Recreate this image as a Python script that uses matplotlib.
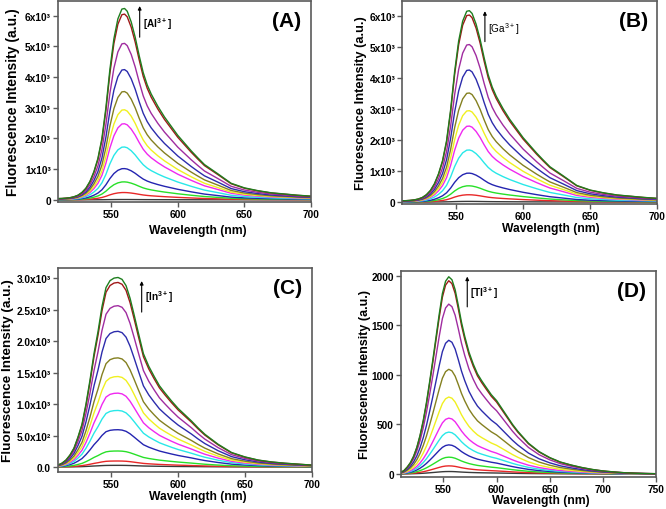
"""Fluorescence titration spectra of the probe with Al3+, Ga3+, In3+ and Tl3+ (panels A-D)."""
import matplotlib
matplotlib.use("Agg")
import matplotlib.pyplot as plt
import numpy as np

plt.rcParams["font.family"] = ["Liberation Sans", "DejaVu Sans"]
plt.rcParams["mathtext.fontset"] = "custom"
plt.rcParams["mathtext.rm"] = "Liberation Sans"
plt.rcParams["mathtext.bf"] = "Liberation Sans:bold"

# one colour per titration step, lowest to highest
COLORS = ["#3a3a3a", "#e82828", "#28e028", "#2424b0", "#28e8e8", "#f028f0",
          "#f0f020", "#848020", "#2c2cac", "#a02ca0", "#a01818", "#1e7e1e"]

# top spectrum of each panel (nm, a.u.)
WL_AB = [510, 513, 516, 519, 522, 525, 528, 531, 534, 537, 540, 543, 546, 549,
         552, 555, 558, 560, 562, 565, 568, 571, 574, 577, 580, 585, 590, 595,
         600, 605, 610, 615, 620, 630, 640, 650, 660, 670, 680, 690, 700]
PROFILE_AB = [40, 45, 55, 70, 100, 150, 240, 380, 600, 920, 1350, 2000, 3000, 4250,
              5250, 5900, 6220, 6240, 6150, 5800, 5300, 4700, 4150, 3750, 3450, 3050,
              2700, 2400, 2100, 1850, 1600, 1370, 1150, 850, 540, 390, 300, 230, 190,
              150, 120]

WL_C = [510, 513, 516, 519, 522, 525, 528, 531, 534, 537, 540, 543, 546, 549,
        552, 555, 558, 561, 564, 567, 570, 574, 578, 582, 586, 590, 595, 600, 605,
        610, 615, 620, 630, 640, 650, 660, 670, 680, 690, 700]
PROFILE_C = [30, 60, 110, 190, 300, 475, 680, 1000, 1380, 1800, 2150, 2550, 2850,
             2960, 3000, 3010, 2980, 2880, 2680, 2420, 2150, 1800, 1600, 1440, 1290,
             1180, 1050, 930, 830, 730, 620, 520, 360, 230, 160, 110, 80, 60, 45, 30]

WL_D = [510, 513, 516, 519, 522, 525, 528, 531, 534, 537, 540, 543, 546, 549,
        552, 555, 558, 561, 564, 567, 570, 574, 578, 582, 586, 590, 595, 600, 605,
        610, 615, 620, 630, 640, 650, 660, 670, 680, 690, 700, 710, 720, 730, 740,
        750]
PROFILE_D = [15, 35, 70, 115, 180, 270, 390, 540, 720, 930, 1150, 1380, 1610, 1820,
             1945, 1990, 1960, 1860, 1700, 1530, 1390, 1230, 1110, 1010, 940, 877,
             800, 740, 660, 580, 500, 430, 310, 225, 165, 120, 90, 65, 45, 30, 20, 12,
             7, 4, 2]

# peak intensity of every spectrum, lowest to highest metal concentration
PEAKS_A = [10, 238, 585, 1018, 1722, 2480, 2935, 3530, 4245, 5100, 6054, 6238]
PEAKS_B = [20, 234, 522, 930, 1675, 2445, 2940, 3510, 4250, 5070, 6020, 6160]
PEAKS_C = [26, 95, 254, 592, 898, 1173, 1437, 1733, 2155, 2562, 2931, 3010]
PEAKS_D = [24, 81, 169, 293, 422, 563, 776, 1056, 1349, 1714, 1950, 1990]

YT_AB = [0, 1000, 2000, 3000, 4000, 5000, 6000]
YL_AB = ["0", "1x10³", "2x10³", "3x10³", "4x10³", "5x10³", "6x10³"]
YT_C = [0, 500, 1000, 1500, 2000, 2500, 3000]
YL_C = ["0.0", "5.0x10²", "1.0x10³", "1.5x10³", "2.0x10³", "2.5x10³", "3.0x10³"]
YT_D = [0, 500, 1000, 1500, 2000]
YL_D = ["0", "500", "1000", "1500", "2000"]

XT_ABC = [550, 600, 650, 700]
XT_D = [550, 600, 650, 700, 750]

LETTERS = ["(A)", "(B)", "(C)", "(D)"]
IONS = [r"$\mathbf{[Al^{3+}]}$", r"[Ga$^{3+}$]", r"$\mathbf{[In^{3+}]}$", r"$\mathbf{[Tl^{3+}]}$"]

SPINE = "#5a5a5a"

panels = [
    # rect, wl, profile, peaks, xlim, ylim, yticks, ylabels, xticks,
    # ylabel x, ylabel size, xlabel x, xlabel y, arrow x, arrow y0, y1, label x, label y
    ([0.087, 0.602, 0.380, 0.394], WL_AB, PROFILE_AB, PEAKS_A, (510, 700), (-70, 6480),
     YT_AB, YL_AB, XT_ABC, -0.151, 10.0, 0.553, -0.112, 0.323, 0.82, 0.975, 0.336, 0.89),
    ([0.604, 0.598, 0.383, 0.398], WL_AB, PROFILE_AB, PEAKS_B, (510, 700), (-64, 6470),
     YT_AB, YL_AB, XT_ABC, -0.140, 9.3, 0.584, -0.088, 0.324, 0.80, 0.95, 0.336, 0.868),
    ([0.087, 0.0725, 0.381, 0.400], WL_C, PROFILE_C, PEAKS_C, (510, 700), (-80, 3160),
     YT_C, YL_C, XT_ABC, -0.174, 9.7, 0.551, -0.086, 0.33, 0.784, 0.936, 0.345, 0.86),
    ([0.602, 0.063, 0.383, 0.404], WL_D, PROFILE_D, PEAKS_D, (510, 750), (-30, 2050),
     YT_D, YL_D, XT_D, -0.117, 9.0, 0.549, -0.082, 0.26, 0.825, 0.972, 0.272, 0.897),
]

fig = plt.figure(figsize=(6.66, 5.10), dpi=100)

for i, (rect, wl, prof, peaks, xlim, ylim, yt, yl, xt,
        ylx, yls, xlx, xly, ax_x, ay0, ay1, lx, ly) in enumerate(panels):
    ax = fig.add_axes(rect)
    prof = np.asarray(prof, dtype=float)
    shape = prof / prof.max()
    for c, pk in zip(COLORS, peaks):
        ax.plot(wl, shape * pk, color=c, lw=1.0)

    ax.set_xlim(*xlim)
    ax.set_ylim(*ylim)
    ax.set_xticks(xt)
    ax.set_xticklabels([str(v) for v in xt], fontsize=7.3, fontweight="bold")
    ax.set_yticks(yt)
    ax.set_yticklabels(yl, fontsize=7.3, fontweight="bold")
    ax.tick_params(direction="out", length=3.5, width=1.0, color=SPINE, pad=1.5)
    for sp in ax.spines.values():
        sp.set_color(SPINE)
        sp.set_linewidth(1.2)

    ax.set_xlabel("Wavelength (nm)", fontsize=8.7, fontweight="bold")
    ax.xaxis.set_label_coords(xlx, xly)
    ax.set_ylabel("Fluorescence Intensity (a.u.)", fontsize=yls, fontweight="bold")
    ax.yaxis.set_label_coords(ylx, 0.5)

    ax.text(0.962, 0.905, LETTERS[i], transform=ax.transAxes, ha="right", va="center",
            fontsize=15, fontweight="bold")
    ax.annotate("", xy=(ax_x, ay1), xytext=(ax_x, ay0), xycoords="axes fraction",
                arrowprops=dict(arrowstyle="-|>", color="black", lw=0.8,
                                mutation_scale=5, shrinkA=0, shrinkB=0))
    ax.text(lx, ly, IONS[i], transform=ax.transAxes, ha="left", va="center",
            fontsize=7.2, fontweight="bold" if i != 1 else "normal")

fig.savefig("out.png", dpi=100)
